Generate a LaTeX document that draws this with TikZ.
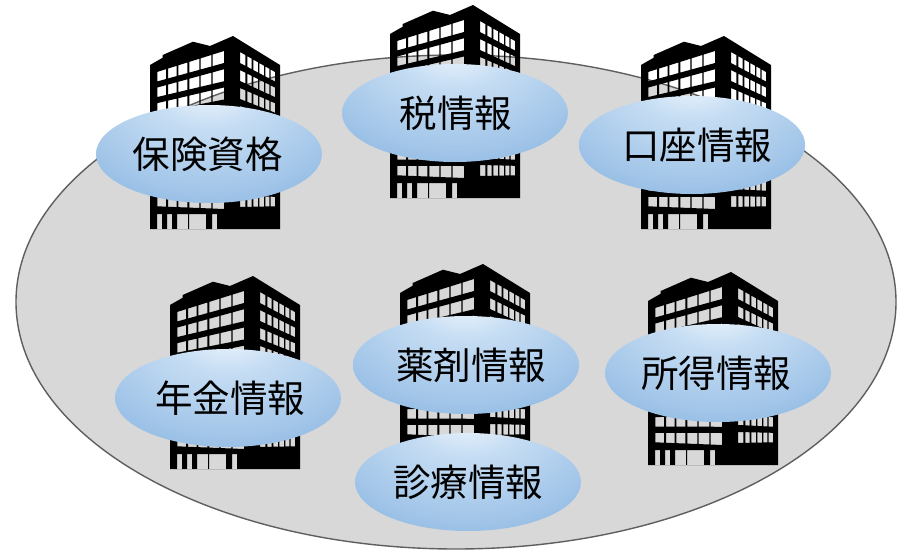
\documentclass[tikz,border=0pt]{standalone}
\usepackage{fontspec}
\newfontfamily\cjk{Noto Sans CJK JP}
\usetikzlibrary{shapes.geometric}
\definecolor{yardgray}{RGB}{216,216,216}
\definecolor{rimgray}{RGB}{95,95,95}
\pgfdeclareradialshading{bubshade}{\pgfpoint{0bp}{24bp}}{%
  rgb(0bp)=(0.97,0.985,1);
  rgb(12bp)=(0.78,0.87,0.955);
  rgb(30bp)=(0.63,0.77,0.91);
  rgb(42bp)=(0.50,0.69,0.875);
  rgb(50bp)=(0.38,0.61,0.84);
  rgb(100bp)=(0.38,0.61,0.84)}
\tikzset{
  bubble/.style={ellipse,minimum width=226pt,minimum height=98pt,inner sep=0pt,
    path picture={\shade[shading=bubshade] ([shift={(-113pt,-75pt)}]path picture bounding box.center) rectangle ++(226pt,150pt);},
    font=\cjk\fontsize{37.5}{37.5}\selectfont,text=black}
}
\newcommand{\leftwin}[3]{% x1, x2, row
  (#1,{35+#3*15.6+(14+#3*18.25-35-#3*15.6)*(#1-7)/67}) --
  (#2,{35+#3*15.6+(14+#3*18.25-35-#3*15.6)*(#2-7)/67}) --
  (#2,{35+#3*15.6+(14+#3*18.25-35-#3*15.6)*(#2-7)/67+9.5+2.5*(#2-7)/67}) --
  (#1,{35+#3*15.6+(14+#3*18.25-35-#3*15.6)*(#1-7)/67+9.5+2.5*(#1-7)/67}) -- cycle}
\newcommand{\rightwin}[3]{%
  (#1,{15+#3*18+(20-#3*2.4)*(#1-90)/35}) --
  (#2,{15+#3*18+(20-#3*2.4)*(#2-90)/35}) --
  (#2,{15+#3*18+(20-#3*2.4)*(#2-90)/35+11-1.5*(#2-90)/35}) --
  (#1,{15+#3*18+(20-#3*2.4)*(#1-90)/35+11-1.5*(#1-90)/35}) -- cycle}
\newcommand{\tower}[2]{%
\begin{scope}[shift={(#1,#2)}]
  \fill[black,even odd rule] (0,192)--(0,28)--(12.7,20.7)--(12.7,18)--(43,4.7)--(60,9)--(83,-1)--(130,28)--(130,192)--cycle
    \foreach \r in {0,...,8}{
      \foreach \xa/\xb in {7.3/16,18/26.7,28.3/37.3,39.3/49.3,50.7/61.3,62.7/74}{ \leftwin{\xa}{\xb}{\r} }
      \foreach \xa/\xb in {90/95.3,97.3/101.7,103.3/108,109.3/114,115.3/119.3,120.7/125}{ \rightwin{\xa}{\xb}{\r} }
    }
    \foreach \xa/\xb in {7/12,17/22,27/38,39/56,62/67}{ (\xa,177) rectangle (\xb,192) };
\end{scope}}
\begin{document}
\begin{tikzpicture}[x=1pt,y=-1pt]
\useasboundingbox (0,0) rectangle (905,549);
\fill[white] (0,0) rectangle (905,549);
\draw[fill=yardgray,draw=rimgray,line width=1.4pt] (456,302) ellipse [x radius=440,y radius=247];
\tower{150}{37}
\tower{390}{6}
\tower{641}{37}
\tower{170}{277}
\tower{400}{265}
\tower{648}{273}
\node[bubble] (a) at (209,154) {\hspace*{-3pt}保険資格};
\node[bubble] (b) at (455,113) {\hspace*{2pt}税情報};
\node[bubble] (c) at (692,145) {\hspace*{10pt}口座情報};
\node[bubble] (d) at (228,398) {\hspace*{4pt}年金情報};
\node[bubble] (e) at (466,365) {\hspace*{10pt}薬剤情報};
\node[bubble] (f) at (718,373) {\hspace*{-4pt}所得情報};
\node[bubble] (g) at (468,482) {診療情報};
\end{tikzpicture}
\end{document}
